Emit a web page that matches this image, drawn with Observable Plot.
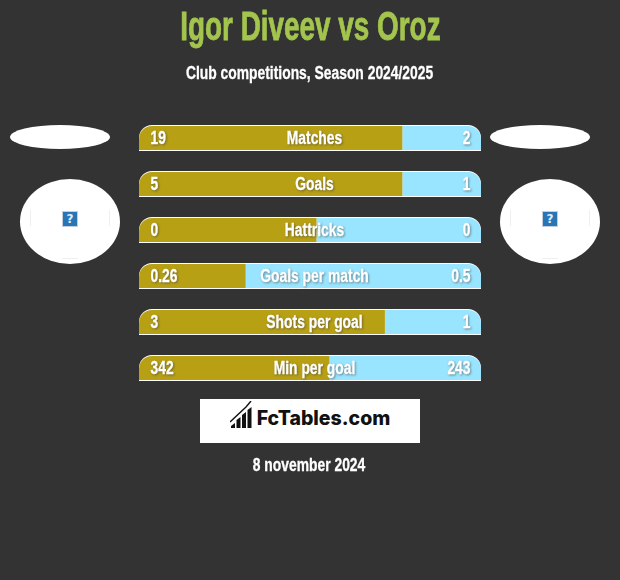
<!DOCTYPE html>
<html lang="en">
<head>
<meta charset="utf-8">
<script src="https://cdn.jsdelivr.net/npm/d3@7"></script>
<script src="https://cdn.jsdelivr.net/npm/@observablehq/plot@0.6"></script>
<style>
  html, body { margin: 0; padding: 0; background: #333333; }
  #page { position: relative; width: 620px; height: 580px; overflow: hidden; background: #333333;
    font-family: "Liberation Sans", sans-serif; font-weight: 700; color: #fff; }
  #head { height: 115px; text-align: center; overflow: hidden; }
  #title { margin: 0; padding-top: 3px; font-size: 41px; line-height: 46px; font-weight: 700; color: #a3c54e; white-space: nowrap; -webkit-text-stroke: .8px #a3c54e; }
  #title span { display: inline-block; transform: scaleX(.68); }
  #sub { margin-top: 12px; font-size: 18px; line-height: 24px; white-space: nowrap; -webkit-text-stroke: .3px #fff; }
  #sub span { display: inline-block; transform: scaleX(.77); }
  #chart svg { display: block; }
  #chart g[aria-label="text"] text { filter: drop-shadow(1px 1px 1px rgba(60,60,60,.55)); stroke: #fff; stroke-width: .3px; }
  .ell { position: absolute; background: #fff; border-radius: 50%; width: 100px; }
  .ico { position: absolute; width: 14px; height: 14px; top: 211px; background: #2a75b5; border: 1px solid #c3cfdd;
    font: 700 12px/14px "DejaVu Sans", sans-serif; color: #e4edf6; text-align: center; }
  .faint { position: absolute; background: #efefef; }
  #logo { margin: 9px auto 0; width: 220px; height: 44px; box-sizing: border-box; padding-top: 2px; background: #fff; color: #111;
    display: flex; align-items: flex-start; justify-content: center; gap: 4px; font: 800 19.5px/34px "Inter", sans-serif; }
  #date { text-align: center; font-size: 18px; line-height: 22px; margin-top: 11px; margin-right: 1px; white-space: nowrap; -webkit-text-stroke: .3px #fff; }
  #date span { display: inline-block; transform: scaleX(.77); }
</style>
</head>
<body>
<div id="page">
  <div id="head">
    <h1 id="title"><span>Igor Diveev vs Oroz</span></h1>
    <div id="sub"><span>Club competitions, Season 2024/2025</span></div>
  </div>
  <div id="chart"></div>
  <div id="logo">
    <svg width="23" height="28" viewBox="0 0 23 28" style="flex:none">
      <path d="M1 27v-2l4-3v5zM6.500 27v-8l4-3v11zM12 27V14l4-3v16zM17.500 27V9l4-3v21z" fill="#111"/>
      <path d="M0 21 L16 6 L21 0" fill="none" stroke="#111" stroke-width="1.4"/>
    </svg>
    <span>FcTables.com</span>
  </div>
  <div id="date"><span>8 november 2024</span></div>
  <div class="ell" style="left:10px;top:125px;height:24px"></div>
  <div class="ell" style="left:490px;top:125px;height:24px"></div>
  <div class="ell" style="left:20px;top:179px;height:85px"></div>
  <div class="ell" style="left:500px;top:179px;height:85px"></div>
  <div class="faint" style="left:30px;top:210px;width:1px;height:16px"></div>
  <div class="faint" style="left:109px;top:210px;width:1px;height:16px"></div>
  <div class="faint" style="left:62px;top:258px;width:16px;height:1px"></div>
  <div class="faint" style="left:510px;top:210px;width:1px;height:16px"></div>
  <div class="faint" style="left:589px;top:210px;width:1px;height:16px"></div>
  <div class="faint" style="left:542px;top:258px;width:16px;height:1px"></div>
  <div class="ico" style="left:62px">?</div>
  <div class="ico" style="left:542px">?</div>
</div>
<script>
const categories = ["Matches", "Goals", "Hattricks", "Goals per match", "Shots per goal", "Min per goal"];
const leftLabels = ["19", "5", "0", "0.26", "3", "342"];
const rightLabels = ["2", "1", "0", "0.5", "1", "243"];
const leftShare = [0.77, 0.77, 0.519, 0.312, 0.719, 0.557];

const rows = categories.map((c, i) => ({c, l: leftLabels[i], r: rightLabels[i], s: leftShare[i]}));
const gold = "#b8a014", sky = "#99e5ff";
const labelFont = {fontFamily: '"Liberation Sans", sans-serif', fontWeight: 700, fontSize: 18, fill: "#fff"};

const chart = Plot.plot({
  width: 620, height: 275,
  marginTop: 0, marginRight: 0, marginBottom: 0, marginLeft: 0,
  style: {background: "transparent", overflow: "visible"},
  x: {domain: [0, 1], range: [139, 481], axis: null},
  y: {domain: categories, range: [10, 266], paddingInner: 0.4348, paddingOuter: 0, axis: null},
  marks: [
    Plot.barX(rows, {y: "c", x1: 0, x2: 1, fill: "#fff", rx1y1: 13, rx2y1: 13}),
    Plot.barX(rows, {y: "c", x1: "s", x2: 1, fill: sky, insetTop: 1, insetBottom: 1, rx2y1: 13}),
    Plot.barX(rows, {y: "c", x1: 0, x2: "s", fill: gold, insetTop: 1, insetBottom: 1, rx1y1: 13}),
    Plot.text(rows, {y: "c", x: 0.5, text: "c", dx: 4, ...labelFont}),
    Plot.text(rows, {y: "c", x: 0, text: "l", textAnchor: "start", dx: 11, ...labelFont}),
    Plot.text(rows, {y: "c", x: 1, text: "r", textAnchor: "end", dx: -11, ...labelFont})
  ]
});
document.getElementById("chart").append(chart);
// The reference uses a condensed face: narrow the real text to the same width.
d3.select(chart).selectAll('g[aria-label="text"] text').each(function () {
  const w = this.getComputedTextLength();
  this.setAttribute("textLength", (w * 0.77).toFixed(1));
  this.setAttribute("lengthAdjust", "spacingAndGlyphs");
});
</script>
</body>
</html>
